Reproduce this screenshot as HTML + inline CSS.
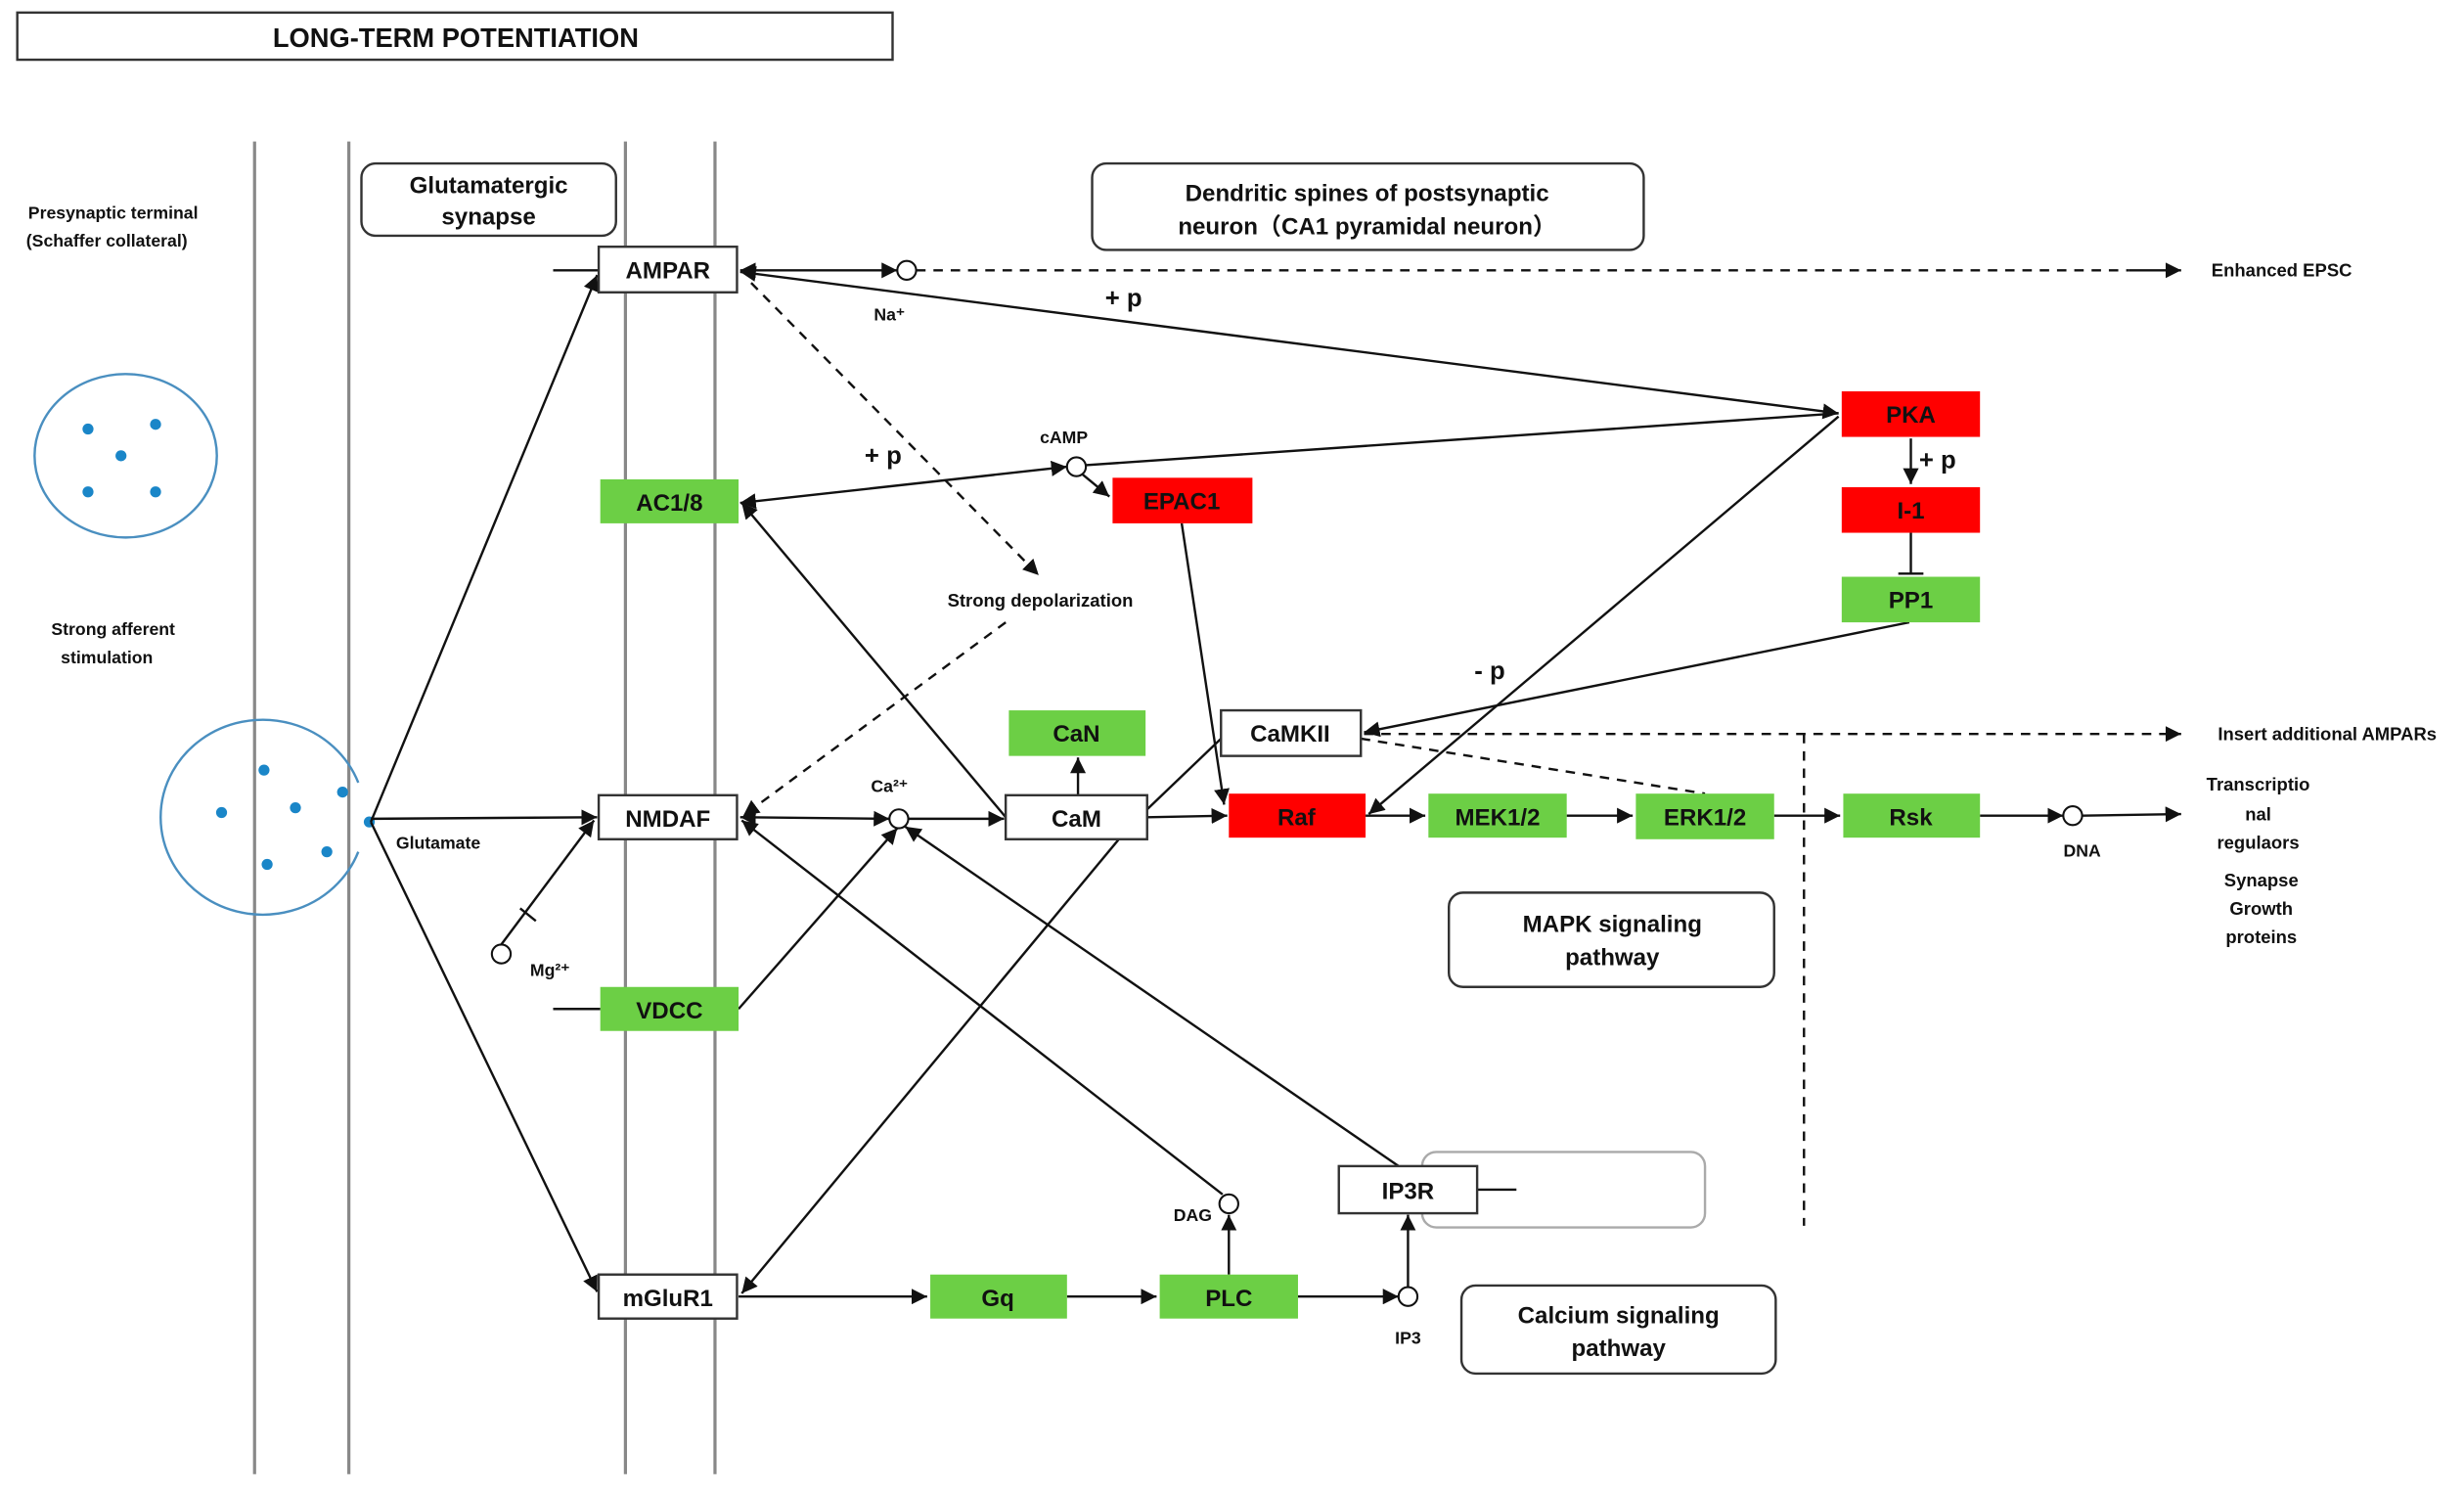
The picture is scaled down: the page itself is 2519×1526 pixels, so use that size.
<!DOCTYPE html>
<html><head><meta charset="utf-8"><style>
html,body{margin:0;padding:0;background:#fff;}
svg{display:block;}
text{font-family:"Liberation Sans","Noto Sans CJK SC",sans-serif;font-weight:bold;fill:#111;}
</style></head><body>
<svg width="2519" height="1526" viewBox="0 0 1568 950" preserveAspectRatio="none" xmlns="http://www.w3.org/2000/svg">
<defs>
<marker id="a" viewBox="0 0 10 10" refX="10" refY="5" markerWidth="10" markerHeight="10" markerUnits="userSpaceOnUse" orient="auto-start-reverse"><path d="M0,0L10,5L0,10z" fill="#111"/></marker>
</defs>
<rect width="1568" height="950" fill="#fff"/>
<rect x="11" y="8" width="557" height="30" fill="#fff" stroke="#333" stroke-width="1.5"/>
<text x="290" y="30" font-size="17" text-anchor="middle">LONG-TERM POTENTIATION</text>
<g stroke="#888" stroke-width="2">
<line x1="162" y1="90" x2="162" y2="938"/><line x1="222" y1="90" x2="222" y2="938"/>
<line x1="398" y1="90" x2="398" y2="938"/><line x1="455" y1="90" x2="455" y2="938"/>
</g>
<text x="72" y="139" font-size="11" text-anchor="middle">Presynaptic terminal</text>
<text x="68" y="157" font-size="11" text-anchor="middle">(Schaffer collateral)</text>
<text x="72" y="404" font-size="11" text-anchor="middle">Strong afferent</text>
<text x="68" y="422" font-size="11" text-anchor="middle">stimulation</text>
<ellipse cx="80" cy="290" rx="58" ry="52" fill="#fff" stroke="#4a8fc0" stroke-width="1.5"/>
<g fill="#1a86c8"><circle cx="56" cy="273" r="3.5"/><circle cx="99" cy="270" r="3.5"/><circle cx="77" cy="290" r="3.5"/><circle cx="56" cy="313" r="3.5"/><circle cx="99" cy="313" r="3.5"/></g>
<path d="M228,498 A65,62 0 1 0 228,542" fill="none" stroke="#4a8fc0" stroke-width="1.5"/>
<g fill="#1a86c8"><circle cx="168" cy="490" r="3.5"/><circle cx="218" cy="504" r="3.5"/><circle cx="188" cy="514" r="3.5"/><circle cx="141" cy="517" r="3.5"/><circle cx="235" cy="523" r="3.5"/><circle cx="208" cy="542" r="3.5"/><circle cx="170" cy="550" r="3.5"/></g>
<text x="252" y="540" font-size="11" font-weight="normal">Glutamate</text>
<g fill="#fff" stroke="#333" stroke-width="1.5">
<rect x="230" y="104" width="162" height="46" rx="9"/>
<rect x="695" y="104" width="351" height="55" rx="9"/>
<rect x="922" y="568" width="207" height="60" rx="9"/>
<rect x="930" y="818" width="200" height="56" rx="9"/>
</g>
<rect x="905" y="733" width="180" height="48" rx="9" fill="#fff" stroke="#aaa" stroke-width="1.5"/>
<text x="311" y="123" font-size="15" text-anchor="middle">Glutamatergic</text>
<text x="311" y="143" font-size="15" text-anchor="middle">synapse</text>
<text x="870" y="128" font-size="15" text-anchor="middle">Dendritic spines of postsynaptic</text>
<text x="870" y="149" font-size="15" text-anchor="middle">neuron（CA1 pyramidal neuron）</text>
<text x="1026" y="593" font-size="15" text-anchor="middle">MAPK signaling</text>
<text x="1026" y="614" font-size="15" text-anchor="middle">pathway</text>
<text x="1030" y="842" font-size="15" text-anchor="middle">Calcium signaling</text>
<text x="1030" y="863" font-size="15" text-anchor="middle">pathway</text>
<g stroke="#111" stroke-width="1.5" fill="none">
<line x1="352" y1="172" x2="381" y2="172"/>
<line x1="352" y1="642" x2="382" y2="642"/>
<line x1="940" y1="757" x2="965" y2="757"/>
<line x1="236" y1="523" x2="380" y2="175" marker-end="url(#a)"/>
<line x1="236" y1="521" x2="380" y2="520" marker-end="url(#a)"/>
<line x1="236" y1="523" x2="380" y2="822" marker-end="url(#a)"/>
<line x1="471" y1="172" x2="571" y2="172" marker-start="url(#a)" marker-end="url(#a)"/>
<line x1="471" y1="173" x2="1170" y2="263" marker-start="url(#a)" marker-end="url(#a)"/>
<line x1="471" y1="320" x2="679" y2="297" marker-start="url(#a)" marker-end="url(#a)"/>
<line x1="691" y1="296" x2="1170" y2="263"/>
<line x1="689" y1="302" x2="706" y2="316" marker-end="url(#a)"/>
<line x1="752" y1="333" x2="779" y2="512" marker-end="url(#a)"/>
<line x1="640" y1="520" x2="472" y2="320" marker-end="url(#a)"/>
<line x1="471" y1="520" x2="566" y2="521" marker-start="url(#a)" marker-end="url(#a)"/>
<line x1="578" y1="521" x2="639" y2="521" marker-end="url(#a)"/>
<line x1="686" y1="506" x2="686" y2="482" marker-end="url(#a)"/>
<line x1="730" y1="520" x2="781" y2="519" marker-end="url(#a)"/>
<line x1="730" y1="515" x2="777" y2="470"/>
<line x1="712" y1="534" x2="472" y2="823" marker-end="url(#a)"/>
<line x1="470" y1="642" x2="571" y2="527" marker-end="url(#a)"/>
<line x1="778" y1="760" x2="472" y2="522" marker-end="url(#a)"/>
<line x1="890" y1="742" x2="576" y2="526" marker-end="url(#a)"/>
<line x1="1170" y1="265" x2="871" y2="518" marker-end="url(#a)"/>
<line x1="1215" y1="396" x2="868" y2="466" marker-end="url(#a)"/>
<line x1="1216" y1="279" x2="1216" y2="308" marker-end="url(#a)"/>
<line x1="1216" y1="339" x2="1216" y2="365"/>
<line x1="1208" y1="365" x2="1224" y2="365"/>
<line x1="869" y1="519" x2="907" y2="519" marker-end="url(#a)"/>
<line x1="997" y1="519" x2="1039" y2="519" marker-end="url(#a)"/>
<line x1="1129" y1="519" x2="1171" y2="519" marker-end="url(#a)"/>
<line x1="1260" y1="519" x2="1313" y2="519" marker-end="url(#a)"/>
<line x1="1325" y1="519" x2="1388" y2="518" marker-end="url(#a)"/>
<line x1="1355" y1="172" x2="1388" y2="172" marker-end="url(#a)"/>
<line x1="470" y1="825" x2="590" y2="825" marker-end="url(#a)"/>
<line x1="679" y1="825" x2="736" y2="825" marker-end="url(#a)"/>
<line x1="826" y1="825" x2="890" y2="825" marker-end="url(#a)"/>
<line x1="896" y1="819" x2="896" y2="773" marker-end="url(#a)"/>
<line x1="782" y1="811" x2="782" y2="773" marker-end="url(#a)"/>
<line x1="319" y1="601" x2="378" y2="522" marker-end="url(#a)"/>
<line x1="331" y1="578" x2="341" y2="586"/>
</g>
<g stroke="#111" stroke-width="1.5" fill="none" stroke-dasharray="6,5">
<line x1="583" y1="172" x2="1355" y2="172"/>
<line x1="478" y1="180" x2="661" y2="366" marker-end="url(#a)"/>
<line x1="640" y1="396" x2="473" y2="519" marker-end="url(#a)"/>
<line x1="868" y1="467" x2="1388" y2="467" marker-end="url(#a)"/>
<line x1="866" y1="470" x2="1085" y2="505"/>
<line x1="1148" y1="467" x2="1148" y2="780"/>
</g>
<g fill="#fff" stroke="#111" stroke-width="1.3">
<circle cx="577" cy="172" r="6"/><circle cx="685" cy="297" r="6"/><circle cx="572" cy="521" r="6"/>
<circle cx="319" cy="607" r="6"/><circle cx="782" cy="766" r="6"/><circle cx="896" cy="825" r="6"/><circle cx="1319" cy="519" r="6"/>
</g>
<g stroke="#333" stroke-width="1.5" fill="#fff">
<rect x="381" y="157" width="88" height="29"/><rect x="381" y="506" width="88" height="28"/>
<rect x="381" y="811" width="88" height="28"/><rect x="640" y="506" width="90" height="28"/>
<rect x="777" y="452" width="89" height="29"/><rect x="852" y="742" width="88" height="30"/>
</g>
<g fill="#6ccf45">
<rect x="382" y="305" width="88" height="28"/><rect x="382" y="628" width="88" height="28"/>
<rect x="642" y="452" width="87" height="29"/><rect x="909" y="505" width="88" height="28"/>
<rect x="1041" y="505" width="88" height="29"/><rect x="1173" y="505" width="87" height="28"/>
<rect x="1172" y="367" width="88" height="29"/><rect x="592" y="811" width="87" height="28"/>
<rect x="738" y="811" width="88" height="28"/>
</g>
<g fill="#ff0000">
<rect x="708" y="304" width="89" height="29"/><rect x="1172" y="249" width="88" height="29"/>
<rect x="1172" y="310" width="88" height="29"/><rect x="782" y="505" width="87" height="28"/>
</g>
<g font-size="15" text-anchor="middle">
<text x="425" y="177">AMPAR</text><text x="426" y="325">AC1/8</text><text x="425" y="526">NMDAF</text>
<text x="426" y="648">VDCC</text><text x="425" y="831">mGluR1</text><text x="752" y="324">EPAC1</text>
<text x="685" y="472">CaN</text><text x="685" y="526">CaM</text><text x="821" y="472">CaMKII</text>
<text x="825" y="525">Raf</text><text x="953" y="525">MEK1/2</text><text x="1085" y="525">ERK1/2</text>
<text x="1216" y="525">Rsk</text><text x="1216" y="269">PKA</text><text x="1216" y="330">I-1</text>
<text x="1216" y="387">PP1</text><text x="635" y="831">Gq</text><text x="782" y="831">PLC</text>
<text x="896" y="763">IP3R</text>
</g>
<g font-size="16" text-anchor="middle"><text x="715" y="195">+ p</text><text x="562" y="295">+ p</text><text x="1233" y="298">+ p</text><text x="948" y="432">- p</text></g>
<g font-size="11" text-anchor="middle" font-weight="normal">
<text x="566" y="204">Na⁺</text><text x="677" y="282">cAMP</text><text x="566" y="504">Ca²⁺</text>
<text x="350" y="621">Mg²⁺</text><text x="759" y="777">DAG</text><text x="896" y="855">IP3</text><text x="1325" y="545">DNA</text>
</g>
<g font-size="11.5" text-anchor="middle">
<text x="662" y="386">Strong depolarization</text>
<text x="1452" y="176">Enhanced EPSC</text>
<text x="1481" y="471">Insert additional AMPARs</text>
<text x="1437" y="503">Transcriptio</text><text x="1437" y="522">nal</text><text x="1437" y="540">regulaors</text>
<text x="1439" y="564">Synapse</text><text x="1439" y="582">Growth</text><text x="1439" y="600">proteins</text>
</g>
</svg>
</body></html>
